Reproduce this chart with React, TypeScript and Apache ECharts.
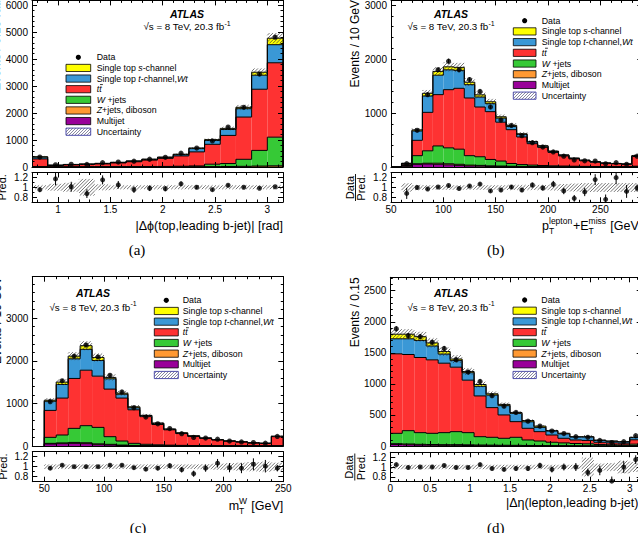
import React, { useEffect, useRef } from "react";
import * as echarts from "echarts";

const FONT = '"Liberation Sans", Arial, Helvetica, sans-serif';
const SERIF = '"Liberation Serif", "DejaVu Serif", serif';

// ---------- (a) |Δϕ(top, leading b-jet)| ----------
const aEdges = [0.75, 0.9, 1.05, 1.2, 1.35, 1.5, 1.65, 1.8, 1.95, 2.1, 2.25, 2.4, 2.55, 2.7, 2.85, 3.0, 3.15];
const aMultijet = [0, 0, 0, 0, 0, 0, 0, 0, 0, 0, 0, 0, 0, 0, 0, 0];
const aZjets = [5, 2, 2, 2, 3, 3, 4, 5, 6, 8, 10, 14, 18, 25, 35, 45];
const aWjets = [10, 3, 4, 5, 6, 7, 9, 12, 15, 20, 30, 90, 110, 260, 580, 1060];
const aTtbar = [285, 50, 74, 88, 106, 140, 182, 238, 299, 382, 520, 736, 1042, 1565, 2265, 2755];
const aTchan = [65, 11, 12, 11, 15, 18, 22, 26, 35, 48, 120, 140, 220, 310, 520, 670];
const aSchan = [15, 4, 4, 5, 6, 7, 9, 11, 13, 17, 25, 35, 40, 50, 110, 240];
const aData = [370, 80, 100, 96, 158, 185, 215, 287, 358, 510, 700, 965, 1480, 2210, 3440, 4810];
const aRatio = [0.95, 1.17, 1.01, 0.87, 1.15, 1.05, 0.95, 0.98, 0.97, 1.07, 1.0, 0.95, 1.04, 1.0, 0.98, 1.01];
const aBand = [0.04, 0.07, 0.09, 0.17, 0.06, 0.04, 0.04, 0.04, 0.04, 0.04, 0.04, 0.04, 0.04, 0.04, 0.04, 0.04];
const aXTicks = [1, 1.5, 2, 2.5, 3];
const aYTicks = [0, 1000, 2000, 3000, 4000, 5000, 6000];

// ---------- (b) pT(lepton) + ETmiss ----------
const bEdges = [50, 60, 70, 80, 90, 100, 110, 120, 130, 140, 150, 160, 170, 180, 190, 200, 210, 220, 230, 240, 250, 260, 270, 280, 290];
const bMultijet = [0, 15, 50, 55, 50, 40, 30, 20, 15, 10, 8, 6, 5, 4, 3, 3, 2, 2, 2, 1, 1, 1, 1, 3];
const bZjets = [0, 3, 10, 15, 20, 20, 20, 15, 15, 12, 10, 8, 6, 5, 4, 3, 3, 2, 2, 2, 1, 1, 1, 3];
const bWjets = [0, 12, 150, 230, 320, 295, 280, 175, 160, 118, 92, 51, 34, 26, 21, 16, 13, 10, 7, 6, 5, 4, 3, 9];
const bTtbar = [0, 20, 284, 712, 950, 1077, 1127, 1068, 921, 885, 720, 626, 511, 397, 336, 248, 187, 136, 104, 81, 61, 54, 47, 180];
const bTchan = [0, 15, 173, 303, 360, 368, 333, 247, 185, 148, 75, 60, 45, 30, 22, 18, 14, 11, 9, 7, 5, 4, 3, 10];
const bSchan = [0, 5, 20, 50, 70, 55, 55, 45, 40, 35, 25, 20, 15, 10, 8, 6, 5, 4, 3, 3, 2, 2, 1, 8];
const bData = [null, 62, 680, 1340, 1800, 1960, 1800, 1620, 1400, 1110, 870, 770, 580, 450, 370, 280, 200, 130, 115, 110, 60, 80, 50, 200];
const bRatio = [null, 0.88, 1.0, 0.97, 1.01, 1.04, 0.98, 1.03, 1.07, 0.93, 0.95, 1.01, 0.95, 1.05, 0.99, 1.07, 0.93, 0.78, 0.91, 1.16, 0.76, 1.2, 0.92, 0.99];
const bBand = [0, 0.085, 0.05, 0.045, 0.045, 0.045, 0.045, 0.045, 0.045, 0.045, 0.045, 0.05, 0.05, 0.05, 0.05, 0.06, 0.07, 0.08, 0.09, 0.09, 0.09, 0.09, 0.09, 0.09];
const bXTicks = [50, 100, 150, 200, 250];
const bYTicks = [0, 1000, 2000, 3000];

// ---------- (c) mT(W) ----------
const cEdges = [50, 60, 70, 80, 90, 100, 110, 120, 130, 140, 150, 160, 170, 180, 190, 200, 210, 220, 230, 240, 250];
const cMultijet = [47, 55, 62, 55, 31, 23, 12, 8, 5, 4, 3, 2, 2, 2, 1, 1, 1, 1, 1, 2];
const cZjets = [15, 18, 22, 22, 20, 16, 10, 6, 5, 4, 3, 3, 2, 2, 2, 1, 1, 1, 1, 2];
const cWjets = [141, 185, 330, 400, 386, 180, 95, 48, 30, 20, 14, 10, 8, 6, 5, 4, 3, 2, 1, 4];
const cTtbar = [633, 867, 1172, 1303, 1203, 1117, 1008, 788, 650, 477, 360, 277, 213, 170, 135, 109, 90, 68, 59, 212];
const cTchan = [214, 320, 461, 490, 368, 242, 90, 48, 25, 25, 12, 11, 10, 6, 4, 3, 3, 2, 2, 6];
const cSchan = [25, 55, 63, 85, 72, 32, 25, 22, 5, 10, 8, 7, 5, 4, 3, 2, 2, 1, 1, 4];
const cData = [1040, 1530, 2110, 2370, 2090, 1660, 1270, 900, 680, 520, 410, 290, 200, 185, 160, 115, 95, 80, 65, 225];
const cRatio = [0.97, 1.03, 1.0, 1.0, 1.0, 1.03, 1.03, 0.98, 0.95, 0.97, 1.02, 0.94, 0.86, 0.97, 1.07, 0.98, 0.97, 1.05, 1.01, 0.97];
const cBand = [0.045, 0.045, 0.045, 0.045, 0.045, 0.045, 0.045, 0.045, 0.045, 0.045, 0.045, 0.045, 0.045, 0.05, 0.06, 0.07, 0.08, 0.09, 0.1, 0.08];
const cXTicks = [50, 100, 150, 200, 250];
const cYTicks = [0, 1000, 2000, 3000];

// ---------- (d) |Δη(lepton, leading b-jet)| ----------
const dEdges = [0, 0.15, 0.3, 0.45, 0.6, 0.75, 0.9, 1.05, 1.2, 1.35, 1.5, 1.65, 1.8, 1.95, 2.1, 2.25, 2.4, 2.55, 2.7, 2.85, 3.0, 3.15];
const dMultijet = [25, 20, 15, 12, 10, 10, 8, 6, 5, 4, 3, 3, 2, 2, 2, 1, 1, 1, 1, 1, 2];
const dZjets = [12, 12, 12, 12, 12, 12, 12, 10, 9, 8, 8, 6, 5, 4, 3, 3, 3, 2, 2, 2, 3];
const dWjets = [167, 215, 188, 180, 193, 209, 195, 134, 126, 112, 129, 88, 73, 54, 45, 36, 31, 22, 17, 15, 25];
const dTtbar = [1280, 1226, 1210, 1183, 1118, 1038, 845, 656, 478, 376, 252, 188, 151, 117, 74, 57, 55, 35, 30, 27, 70];
const dTchan = [242, 253, 275, 223, 147, 106, 120, 154, 202, 150, 133, 105, 69, 63, 71, 48, 55, 30, 26, 21, 35];
const dSchan = [74, 74, 60, 50, 40, 25, 20, 30, 20, 20, 15, 20, 20, 10, 10, 5, 5, 5, 4, 4, 5];
const dData = [1887, 1775, 1760, 1670, 1570, 1390, 1190, 1040, 810, 640, 540, 400, 320, 240, 200, 150, 140, 90, 55, 70, 165];
const dRatio = [1.05, 0.99, 1.0, 1.0, 1.03, 0.99, 0.99, 1.05, 0.97, 0.95, 0.97, 0.97, 1.03, 0.95, 1.0, 1.0, 0.89, 0.93, 0.71, 1.0, 1.15];
const dBand = [0.045, 0.045, 0.045, 0.045, 0.045, 0.045, 0.045, 0.045, 0.045, 0.045, 0.045, 0.045, 0.045, 0.045, 0.045, 0.045, 0.19, 0.07, 0.08, 0.13, 0.1];
const dXTicks = [0, 0.5, 1, 1.5, 2, 2.5, 3];
const dYTicks = [0, 500, 1000, 1500, 2000, 2500];

const ratioTicks = [0.8, 1, 1.2];
const ratioMinor = [0.9, 1.1];

// stacking order bottom -> top
const COMP_COLORS = ["#990099", "#ff9933", "#36c936", "#fe3232", "#3a98d6", "#ffff00"];
const HATCH_COLOR = "#3a3a3a";

function range(lo: number, hi: number, step: number) {
  const out: number[] = [];
  const n = Math.round((hi - lo) / step);
  for (let k = 0; k <= n; k++) out.push(+(lo + k * step).toFixed(6));
  return out;
}
function minorOf(lo: number, hi: number, step: number, majors: number[]) {
  return range(lo, hi, step).filter((v) => !majors.some((m) => Math.abs(m - v) < 1e-6));
}

const panels: any[] = [
  {
    edges: aEdges, comps: [aMultijet, aZjets, aWjets, aTtbar, aTchan, aSchan], data: aData, ratio: aRatio, band: aBand,
    xmin: 0.75, xmax: 3.15, xMajor: aXTicks, xMinor: minorOf(0.8, 3.1, 0.1, aXTicks),
    ymax: 6170, yMajor: aYTicks, yMinor: minorOf(0, 6000, 200, aYTicks),
    main: { left: 32, top: 0, width: 251, height: 167 },
    rat: { left: 32, top: 172.5, width: 251, height: 29.5 },
    atlas: { cx: 187, y1: 14, y2: 26.7 },
    legend: { boxX: 66, boxW: 24.7, textX: 96.7, y0: 57.3, dy: 10.63 },
    yTitle: { text: "Events / 0.15 rad", x: -4, y: 0 },
    xTitle: { parts: [{ t: "|Δϕ(top,leading b-jet)| [rad]" }], right: 283, y: 226 },
    label: { text: "(a)", x: 137, y: 250 },
  },
  {
    edges: bEdges, comps: [bMultijet, bZjets, bWjets, bTtbar, bTchan, bSchan], data: bData, ratio: bRatio, band: bBand,
    xmin: 50, xmax: 290, xMajor: bXTicks, xMinor: minorOf(60, 280, 10, bXTicks),
    ymax: 3085, yMajor: bYTicks, yMinor: minorOf(0, 3000, 200, bYTicks),
    main: { left: 391, top: 0, width: 251.3, height: 167 },
    rat: { left: 391, top: 172.7, width: 251.3, height: 29.6 },
    atlas: { cx: 451, y1: 14, y2: 26.7 },
    legend: { boxX: 513.3, boxW: 22.7, textX: 541.7, y0: 20.7, dy: 10.71 },
    yTitle: { text: "Events / 10 GeV", x: 355, y: 0 },
    xTitle: { parts: [{ t: "p" }, { sup: "lepton", sub: "T" }, { t: "+E" }, { sup: "miss", sub: "T" }, { t: " [GeV]" }], right: 642.3, y: 225.5 },
    label: { text: "(b)", x: 495.7, y: 250 },
  },
  {
    edges: cEdges, comps: [cMultijet, cZjets, cWjets, cTtbar, cTchan, cSchan], data: cData, ratio: cRatio, band: cBand,
    xmin: 40, xmax: 250, xMajor: cXTicks, xMinor: minorOf(40, 240, 10, cXTicks),
    ymax: 3975, yMajor: cYTicks, yMinor: minorOf(0, 3800, 200, cYTicks),
    main: { left: 32.3, top: 276.7, width: 251, height: 169.3 },
    rat: { left: 32.3, top: 451.7, width: 251, height: 30 },
    atlas: { cx: 93, y1: 293.3, y2: 307.3 },
    legend: { boxX: 154.3, boxW: 24, textX: 182.7, y0: 300.3, dy: 10.67 },
    yTitle: { text: "Events / 10 GeV", x: -2.7, y: 276.7 },
    xTitle: { parts: [{ t: "m" }, { sup: "W", sub: "T" }, { t: " [GeV]" }], right: 283.3, y: 505.5 },
    label: { text: "(c)", x: 138, y: 528 },
  },
  {
    edges: dEdges, comps: [dMultijet, dZjets, dWjets, dTtbar, dTchan, dSchan], data: dData, ratio: dRatio, band: dBand,
    xmin: 0, xmax: 3.15, xMajor: dXTicks, xMinor: minorOf(0.1, 3.1, 0.1, dXTicks),
    ymax: 2716, yMajor: dYTicks, yMinor: minorOf(0, 2700, 100, dYTicks),
    main: { left: 390.3, top: 277.3, width: 251.4, height: 168.7 },
    rat: { left: 390.3, top: 452.3, width: 251.4, height: 29.4 },
    atlas: { cx: 451, y1: 293.3, y2: 307.3 },
    legend: { boxX: 513, boxW: 23.3, textX: 541.3, y0: 300, dy: 10.71 },
    yTitle: { text: "Events / 0.15", x: 355.3, y: 277.3 },
    xTitle: { parts: [{ t: "|Δη(lepton,leading b-jet)|" }], right: 641.7, y: 503 },
    label: { text: "(d)", x: 495.7, y: 528 },
  },
];

let measureCtx: CanvasRenderingContext2D | null = null;
function tw(text: string, size: number, italic = false) {
  if (!measureCtx) measureCtx = document.createElement("canvas").getContext("2d");
  measureCtx!.font = `${italic ? "italic " : ""}${size}px "Liberation Sans"`;
  return measureCtx!.measureText(text).width;
}

function hatch(xa: number, ya: number, xb: number, yb: number, s: number) {
  const out: any[] = [];
  const cStart = Math.ceil((xa + ya) / s) * s;
  for (let c = cStart; c <= xb + yb; c += s) {
    const x1 = Math.max(xa, c - yb);
    const x2 = Math.min(xb, c - ya);
    if (x2 > x1) out.push({ x1, y1: c - x1, x2, y2: c - x2 });
  }
  return out;
}

const fmt = (v: number) => String(+(+v).toFixed(4));

function axisSet(dim: "x" | "y", gridIndex: number, min: number, max: number, major: number[], minor: number[], labels: boolean) {
  const common = { type: "value", gridIndex, min, max, splitLine: { show: false }, z: 10 };
  const line = (show: boolean) => ({ show, onZero: false, lineStyle: { color: "#000", width: 1 } });
  const tick = (vals: number[], len: number) => ({ show: true, inside: true, length: len, customValues: vals, lineStyle: { color: "#000", width: 1 } });
  const pA = dim === "x" ? "bottom" : "left";
  const pB = dim === "x" ? "top" : "right";
  const lab = labels
    ? { show: true, customValues: major, formatter: fmt, margin: dim === "x" ? 2 : 4, fontSize: 10, color: "#000", fontFamily: FONT }
    : { show: false };
  return [
    { ...common, position: pA, axisLine: line(true), axisTick: tick(major, 5), axisLabel: lab },
    { ...common, position: pA, axisLine: line(false), axisTick: tick(minor, 2.5), axisLabel: { show: false } },
    { ...common, position: pB, axisLine: line(true), axisTick: tick(major, 5), axisLabel: { show: false } },
    { ...common, position: pB, axisLine: line(false), axisTick: tick(minor, 2.5), axisLabel: { show: false } },
  ];
}

const LEG_FS = 8.8;
function richStyles(fs: number) {
  return {
    r: { fontSize: fs, fontFamily: FONT, fill: "#000" },
    i: { fontSize: fs, fontFamily: FONT, fontStyle: "italic", fill: "#000" },
  };
}

function legendEls(L: any) {
  const fs = LEG_FS;
  const rows = [
    { kind: "dot", rich: "{r|Data}" },
    { kind: "box", color: COMP_COLORS[5], rich: "{r|Single top }{i|s}{r|-channel}" },
    { kind: "box", color: COMP_COLORS[4], rich: "{r|Single top }{i|t}{r|-channel,}{i|Wt}" },
    { kind: "box", color: COMP_COLORS[3], rich: "{i|tt}", bar: true },
    { kind: "box", color: COMP_COLORS[2], rich: "{i|W}{r| +jets}" },
    { kind: "box", color: COMP_COLORS[1], rich: "{i|Z}{r|+jets, diboson}" },
    { kind: "box", color: COMP_COLORS[0], rich: "{r|Multijet}" },
    { kind: "hatch", rich: "{r|Uncertainty}" },
  ];
  const els: any[] = [];
  rows.forEach((row: any, k) => {
    const y = L.y0 + k * L.dy;
    const bh = 7.2;
    if (row.kind === "dot") {
      els.push({ type: "circle", shape: { cx: L.boxX + L.boxW / 2, cy: y, r: 2.6 }, style: { fill: "#000" } });
    } else if (row.kind === "box") {
      els.push({ type: "rect", shape: { x: L.boxX, y: y - bh / 2, width: L.boxW, height: bh }, style: { fill: row.color, stroke: "#000", lineWidth: 0.8 } });
    } else {
      els.push({ type: "rect", shape: { x: L.boxX, y: y - bh / 2, width: L.boxW, height: bh }, style: { fill: "#fff", stroke: "#3a3aa8", lineWidth: 0.9 } });
      hatch(L.boxX, y - bh / 2, L.boxX + L.boxW, y + bh / 2, 3.0).forEach((s) =>
        els.push({ type: "line", shape: s, style: { stroke: "#555577", lineWidth: 0.7 } })
      );
    }
    els.push({ type: "text", x: L.textX, y, style: { text: row.rich, rich: richStyles(fs), align: "left", verticalAlign: "middle" } });
    if (row.bar) {
      const w1 = tw("t", fs, true);
      const x1 = L.textX + w1 + 0.9;
      els.push({ type: "line", shape: { x1, y1: y - 4.6, x2: x1 + w1 + 0.4, y2: y - 4.6 }, style: { stroke: "#000", lineWidth: 0.8 } });
    }
  });
  return els;
}

function compositeTitle(parts: any[], right: number, y: number, size: number) {
  const small = size * 0.68;
  const widths = parts.map((p) => (p.t !== undefined ? tw(p.t, size) : Math.max(tw(p.sup, small), tw(p.sub, small)) + 0.8));
  const total = widths.reduce((a, b) => a + b, 0);
  let x = right - total;
  const els: any[] = [];
  parts.forEach((p, k) => {
    if (p.t !== undefined) {
      els.push({ type: "text", x, y, style: { text: p.t, fontSize: size, fontFamily: FONT, fill: "#000", align: "left", verticalAlign: "middle" } });
    } else {
      els.push({ type: "text", x, y: y - size * 0.4, style: { text: p.sup, fontSize: small, fontFamily: FONT, fill: "#000", align: "left", verticalAlign: "middle" } });
      els.push({ type: "text", x, y: y + size * 0.4, style: { text: p.sub, fontSize: small, fontFamily: FONT, fill: "#000", align: "left", verticalAlign: "middle" } });
    }
    x += widths[k];
  });
  return els;
}

function buildOption() {
  const grid: any[] = [];
  const xAxis: any[] = [];
  const yAxis: any[] = [];
  const series: any[] = [];
  const elements: any[] = [];

  panels.forEach((P, p) => {
    const gm = 2 * p;
    const gr = 2 * p + 1;
    grid.push({ ...P.main, show: false });
    grid.push({ ...P.rat, show: false });
    xAxis.push(...axisSet("x", gm, P.xmin, P.xmax, P.xMajor, P.xMinor, false));
    xAxis.push(...axisSet("x", gr, P.xmin, P.xmax, P.xMajor, P.xMinor, true));
    yAxis.push(...axisSet("y", gm, 0, P.ymax, P.yMajor, P.yMinor, true));
    yAxis.push(...axisSet("y", gr, 0.7, 1.3, ratioTicks, ratioMinor, true));
    const xm = 4 * gm;
    const xr = 4 * gr;

    const edges: number[] = P.edges;
    const comps: number[][] = P.comps;
    const nb = edges.length - 1;
    const idx = Array.from({ length: nb }, (_, i) => i);
    const cum = (i: number, k: number) => {
      let s = 0;
      for (let j = 0; j <= k; j++) s += comps[j][i];
      return s;
    };
    const total = idx.map((i) => cum(i, comps.length - 1));
    const binData = idx.map((i) => [edges[i], edges[i + 1], total[i]]);
    const centers = idx.map((i) => (edges[i] + edges[i + 1]) / 2);

    // stacked fills
    series.push({
      type: "custom", xAxisIndex: xm, yAxisIndex: xm, clip: true, silent: true, z: 2,
      data: binData, encode: { x: [0, 1], y: 2 },
      renderItem: (params: any, api: any) => {
        const i = params.dataIndex;
        const children: any[] = [];
        let lo = 0;
        for (let k = 0; k < comps.length; k++) {
          const hi = lo + comps[k][i];
          if (hi > lo) {
            const a = api.coord([edges[i], lo]);
            const b = api.coord([edges[i + 1], hi]);
            children.push({ type: "rect", shape: { x: a[0], y: b[1], width: b[0] - a[0], height: a[1] - b[1] }, style: { fill: COMP_COLORS[k] } });
          }
          lo = hi;
        }
        return { type: "group", children };
      },
    });
    // outlines
    series.push({
      type: "custom", xAxisIndex: xm, yAxisIndex: xm, clip: true, silent: true, z: 3,
      data: binData, encode: { x: [0, 1], y: 2 },
      renderItem: (params: any, api: any) => {
        const i = params.dataIndex;
        const children: any[] = [];
        const base = api.coord([edges[i], 0]);
        const xa = base[0];
        const y0 = base[1];
        const xb = api.coord([edges[i + 1], 0])[0];
        const st = { stroke: "#000", lineWidth: 1 };
        for (let k = 0; k < comps.length; k++) {
          const yk = api.coord([edges[i], cum(i, k)])[1];
          children.push({ type: "line", shape: { x1: xa, y1: yk, x2: xb, y2: yk }, style: st });
          const yp = i > 0 ? api.coord([edges[i], cum(i - 1, k)])[1] : y0;
          children.push({ type: "line", shape: { x1: xa, y1: yp, x2: xa, y2: yk }, style: st });
          if (i === nb - 1) children.push({ type: "line", shape: { x1: xb, y1: yk, x2: xb, y2: y0 }, style: st });
        }
        return { type: "group", children };
      },
    });
    // uncertainty hatch on main
    series.push({
      type: "custom", xAxisIndex: xm, yAxisIndex: xm, clip: true, silent: true, z: 4,
      data: binData, encode: { x: [0, 1], y: 2 },
      renderItem: (params: any, api: any) => {
        const i = params.dataIndex;
        const t = total[i];
        const u = P.band[i];
        if (!t || !u) return { type: "group", children: [] };
        const a = api.coord([edges[i], t * (1 - u)]);
        const b = api.coord([edges[i + 1], t * (1 + u)]);
        return {
          type: "group",
          children: hatch(a[0], b[1], b[0], a[1], 3.4).map((s) => ({ type: "line", shape: s, style: { stroke: HATCH_COLOR, lineWidth: 0.7 } })),
        };
      },
    });
    // data error bars (main)
    const dPts = idx.filter((i) => P.data[i] != null);
    series.push({
      type: "custom", xAxisIndex: xm, yAxisIndex: xm, clip: true, silent: true, z: 5,
      data: dPts.map((i) => [centers[i], P.data[i], Math.sqrt(P.data[i])]), encode: { x: 0, y: 1 },
      renderItem: (params: any, api: any) => {
        const x = api.value(0), v = api.value(1), e = api.value(2);
        const a = api.coord([x, v - e]);
        const b = api.coord([x, v + e]);
        return { type: "line", shape: { x1: a[0], y1: a[1], x2: b[0], y2: b[1] }, style: { stroke: "#000", lineWidth: 1 } };
      },
    });
    series.push({
      type: "scatter", xAxisIndex: xm, yAxisIndex: xm, silent: true, z: 6, symbol: "circle", symbolSize: 5.2,
      itemStyle: { color: "#000" }, data: dPts.map((i) => [centers[i], P.data[i]]),
    });

    // ratio hatch band
    series.push({
      type: "custom", xAxisIndex: xr, yAxisIndex: xr, clip: true, silent: true, z: 4,
      data: binData, encode: { x: [0, 1], y: 2 },
      renderItem: (params: any, api: any) => {
        const i = params.dataIndex;
        const u = P.band[i];
        if (!total[i] || !u) return { type: "group", children: [] };
        const a = api.coord([edges[i], 1 - u]);
        const b = api.coord([edges[i + 1], 1 + u]);
        return {
          type: "group",
          children: hatch(a[0], b[1], b[0], a[1], 3.4).map((s) => ({ type: "line", shape: s, style: { stroke: HATCH_COLOR, lineWidth: 0.7 } })),
        };
      },
    });
    const rPts = idx.filter((i) => P.ratio[i] != null && P.data[i] != null);
    series.push({
      type: "custom", xAxisIndex: xr, yAxisIndex: xr, clip: true, silent: true, z: 5,
      data: rPts.map((i) => [centers[i], P.ratio[i], P.ratio[i] / Math.sqrt(P.data[i])]), encode: { x: 0, y: 1 },
      renderItem: (params: any, api: any) => {
        const x = api.value(0), v = api.value(1), e = api.value(2);
        const a = api.coord([x, v - e]);
        const b = api.coord([x, v + e]);
        return { type: "line", shape: { x1: a[0], y1: a[1], x2: b[0], y2: b[1] }, style: { stroke: "#000", lineWidth: 1 } };
      },
    });
    series.push({
      type: "scatter", xAxisIndex: xr, yAxisIndex: xr, silent: true, z: 6, symbol: "circle", symbolSize: 5,
      itemStyle: { color: "#000" }, data: rPts.map((i) => [centers[i], P.ratio[i]]),
    });

    // ---- texts ----
    elements.push({ type: "text", x: P.atlas.cx, y: P.atlas.y1, style: { text: "ATLAS", fontSize: 10.5, fontWeight: "bold", fontStyle: "italic", fontFamily: FONT, fill: "#000", align: "center", verticalAlign: "middle" } });
    const mainTxt = "√s = 8 TeV, 20.3 fb";
    const mw = tw(mainTxt, 9.8);
    const sw = tw("-1", 7);
    const sx = P.atlas.cx - (mw + sw) / 2;
    elements.push({ type: "text", x: sx, y: P.atlas.y2, style: { text: mainTxt, fontSize: 9.8, fontFamily: FONT, fill: "#000", align: "left", verticalAlign: "middle" } });
    elements.push({ type: "text", x: sx + mw, y: P.atlas.y2 - 3.6, style: { text: "-1", fontSize: 7, fontFamily: FONT, fill: "#000", align: "left", verticalAlign: "middle" } });

    elements.push(...legendEls(P.legend));

    elements.push({ type: "text", x: P.yTitle.x, y: P.yTitle.y, rotation: Math.PI / 2, style: { text: P.yTitle.text, fontSize: 12, fontFamily: FONT, fill: "#000", align: "right", verticalAlign: "middle" } });

    const rc = P.rat.top + P.rat.height / 2;
    elements.push({
      type: "group", x: P.rat.left - 35.5, y: rc, rotation: Math.PI / 2,
      children: [
        { type: "text", x: 0, y: -5.6, style: { text: "Data", fontSize: 11, fontFamily: FONT, fill: "#000", align: "center", verticalAlign: "middle" } },
        { type: "line", shape: { x1: -13.5, y1: 0, x2: 13.5, y2: 0 }, style: { stroke: "#000", lineWidth: 0.9 } },
        { type: "text", x: 0, y: 5.8, style: { text: "Pred.", fontSize: 11, fontFamily: FONT, fill: "#000", align: "center", verticalAlign: "middle" } },
      ],
    });

    elements.push(...compositeTitle(P.xTitle.parts, P.xTitle.right, P.xTitle.y, 12.5));

    elements.push({ type: "text", x: P.label.x, y: P.label.y, style: { text: P.label.text, fontSize: 15, fontFamily: SERIF, fill: "#000", align: "center", verticalAlign: "middle" } });
  });

  return {
    animation: false,
    backgroundColor: "#fff",
    textStyle: { fontFamily: FONT },
    grid,
    xAxis,
    yAxis,
    series,
    graphic: { elements },
  };
}

export default function App() {
  const ref = useRef<HTMLDivElement>(null);
  useEffect(() => {
    const chart = echarts.init(ref.current!, null, { renderer: "svg" });
    chart.setOption(buildOption() as any);
    return () => chart.dispose();
  }, []);
  return (
    <div style={{ position: "fixed", left: 0, top: 0, width: 638, height: 533, overflow: "hidden", background: "#fff" }}>
      <div ref={ref} style={{ width: 660, height: 533 }} />
    </div>
  );
}
